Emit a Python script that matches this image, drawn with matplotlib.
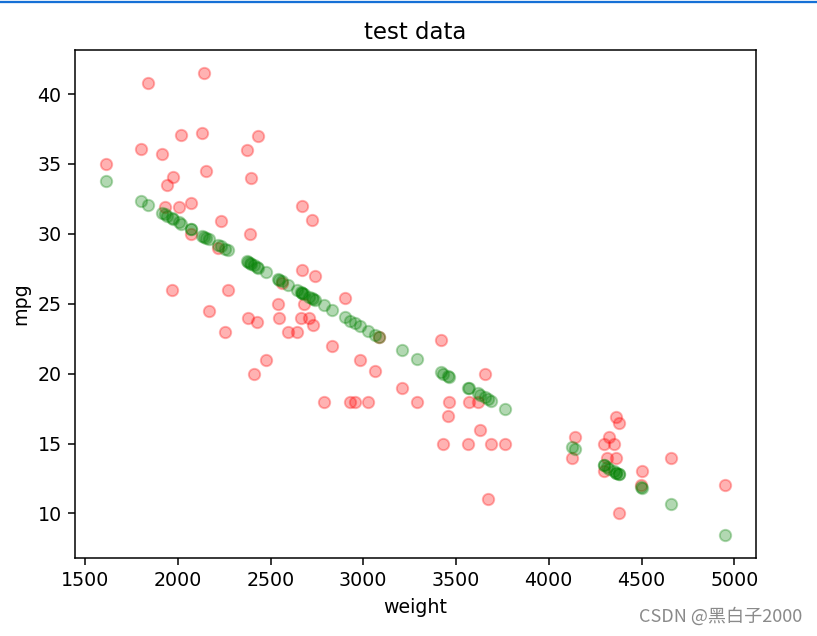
import matplotlib
matplotlib.use("Agg")
import matplotlib.pyplot as plt
from matplotlib.lines import Line2D

# test samples: car weight, actual mpg (red) and predicted mpg (green)
weight = [1613, 1804, 1841, 1915, 1931, 1944, 1969, 1974, 2005, 2019,
          2069, 2069, 2132, 2144, 2150, 2166, 2216, 2232, 2254, 2270,
          2374, 2378, 2389, 2394, 2410, 2428, 2434, 2478, 2543, 2545,
          2560, 2595, 2644, 2662, 2669, 2671, 2679, 2706, 2721, 2730,
          2739, 2789, 2834, 2900, 2931, 2958, 2981, 3026, 3062, 3085,
          3209, 3290, 3417, 3430, 3455, 3462, 3565, 3570, 3616, 3631,
          3654, 3670, 3690, 3766, 4126, 4142, 4295, 4295, 4313, 4327,
          4349, 4363, 4363, 4378, 4378, 4499, 4505, 4661, 4950]

mpg_actual = [35.0, 36.1, 40.8, 35.7, 31.9, 33.5, 26.0, 34.1, 31.9, 37.1,
              32.2, 30.0, 37.2, 41.5, 34.5, 24.5, 29.0, 30.9, 23.0, 26.0,
              36.0, 24.0, 30.0, 34.0, 20.0, 23.7, 37.0, 21.0, 25.0, 24.0,
              26.5, 23.0, 23.0, 24.0, 32.0, 27.4, 25.0, 24.0, 31.0, 23.5,
              27.0, 18.0, 22.0, 25.4, 18.0, 18.0, 21.0, 18.0, 20.2, 22.6,
              19.0, 18.0, 22.4, 15.0, 17.0, 18.0, 15.0, 18.0, 18.0, 16.0,
              20.0, 11.0, 15.0, 15.0, 14.0, 15.5, 15.0, 13.0, 14.0, 15.5,
              15.0, 16.9, 14.0, 16.5, 10.0, 12.0, 13.0, 14.0, 12.0]

mpg_pred = [33.81, 32.36, 32.08, 31.52, 31.39, 31.30, 31.11, 31.07, 30.83, 30.73,
            30.35, 30.35, 29.87, 29.78, 29.73, 29.61, 29.23, 29.11, 28.94, 28.82,
            28.03, 28.00, 27.92, 27.88, 27.76, 27.62, 27.57, 27.24, 26.75, 26.73,
            26.62, 26.35, 25.98, 25.84, 25.79, 25.77, 25.71, 25.51, 25.39, 25.33,
            25.26, 24.88, 24.54, 24.03, 23.80, 23.59, 23.42, 23.08, 22.80, 22.63,
            21.69, 21.07, 20.11, 20.01, 19.82, 19.77, 18.98, 18.95, 18.60, 18.48,
            18.31, 18.19, 18.03, 17.46, 14.72, 14.60, 13.44, 13.44, 13.30, 13.20,
            13.03, 12.92, 12.92, 12.81, 12.81, 11.89, 11.84, 10.66, 8.46]

# original was rendered bigger and scaled down, so use a higher dpi
dpi = 137
fig = plt.figure(figsize=(817 / dpi, 636 / dpi), dpi=dpi)
ax = fig.add_axes([0.0918, 0.1226, 0.8335, 0.7987])

ax.scatter(weight, mpg_actual, c='red', alpha=0.3)
ax.scatter(weight, mpg_pred, c='green', alpha=0.3)

ax.set_title('test data')
ax.set_xlabel('weight')
ax.set_ylabel('mpg')

# screenshot decorations
fig.add_artist(Line2D([0, 1], [0.9975, 0.9975], color='#1570d6', lw=1.2))
fig.text(0.982, 0.030, 'CSDN @黑白子2000', ha='right', va='center',
         fontsize=9.5, color='#8a8a8a', family=['Noto Sans CJK SC', 'DejaVu Sans'])

plt.savefig('out.png', dpi=dpi)
